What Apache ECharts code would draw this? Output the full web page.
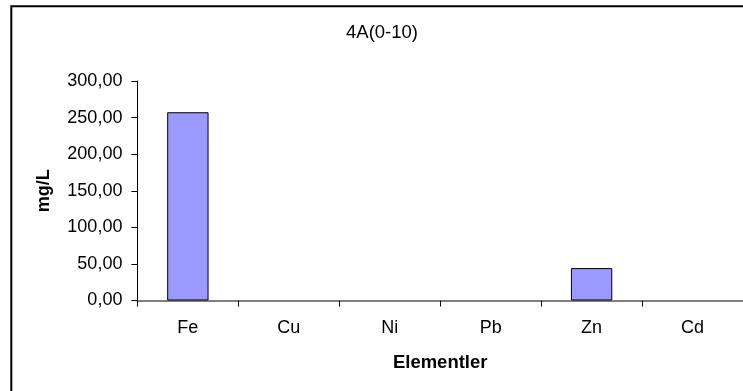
<!DOCTYPE html>
<html>
<head>
<meta charset="utf-8">
<script src="https://cdn.jsdelivr.net/npm/echarts@6/dist/echarts.min.js"></script>
<style>
html,body{margin:0;padding:0;background:#fff;}
#chart{width:743px;height:391px;}
</style>
</head>
<body>
<div id="chart"></div>
<script>
const titleText = '4A(0-10)';
const categories = ['Fe', 'Cu', 'Ni', 'Pb', 'Zn', 'Cd'];
const values = [257.3, 0, 0, 0, 44.3, 0];
const xAxisName = 'Elementler';
const yAxisName = 'mg/L';
const yTicks = [0, 50, 100, 150, 200, 250, 300];

const FONT = '"Liberation Sans", Arial, sans-serif';
const chart = echarts.init(document.getElementById('chart'), null, {renderer: 'canvas'});
chart.setOption({
  animation: false,
  backgroundColor: '#fff',
  textStyle: {fontFamily: FONT},
  graphic: [
    {type: 'rect', silent: true, z: 0,
     shape: {x: 11.3, y: 6.3, width: 900, height: 600},
     style: {fill: 'none', stroke: '#000', lineWidth: 2}},
    {type: 'text', z: 10,
     style: {text: titleText, x: 382, y: 33, textAlign: 'center', textVerticalAlign: 'middle',
             font: '18.5px ' + FONT, fill: '#000'}}
  ],
  grid: {left: 137.4, right: 0, top: 81, bottom: 90.5, containLabel: false},
  xAxis: {
    type: 'category',
    data: categories,
    name: xAxisName,
    nameLocation: 'middle',
    nameGap: 53,
    nameTextStyle: {fontSize: 18.5, fontWeight: 'bold', color: '#000', fontFamily: FONT},
    axisLine: {show: true, lineStyle: {color: '#808080', width: 2}},
    axisTick: {show: true, length: 6, lineStyle: {color: '#000', width: 1}},
    axisLabel: {fontSize: 18, color: '#000', margin: 19, fontFamily: FONT},
    splitLine: {show: false}
  },
  yAxis: {
    type: 'value',
    min: yTicks[0],
    max: yTicks[yTicks.length - 1],
    interval: 50,
    name: yAxisName,
    nameLocation: 'middle',
    nameRotate: 90,
    nameGap: 84,
    nameTextStyle: {fontSize: 18, fontWeight: 'bold', color: '#000', fontFamily: FONT},
    axisLine: {show: true, lineStyle: {color: '#000', width: 1}},
    axisTick: {show: true, length: 6, lineStyle: {color: '#000', width: 1}},
    axisLabel: {fontSize: 18, color: '#000', margin: 15, fontFamily: FONT,
                formatter: v => v.toFixed(2).replace('.', ',')},
    splitLine: {show: false}
  },
  series: [{
    type: 'bar',
    data: values.map(v => v === 0 ? {value: v, itemStyle: {borderWidth: 0}} : v),
    barWidth: '41%',
    itemStyle: {color: '#9999FF', borderColor: '#000', borderWidth: 1}
  }]
});
</script>
</body>
</html>
